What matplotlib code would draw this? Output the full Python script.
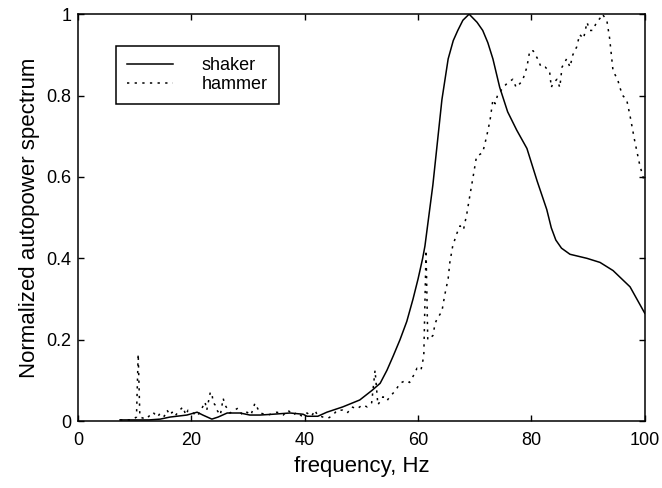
import matplotlib
matplotlib.use('Agg')  # headless
import matplotlib.pyplot as plt

plt.rcParams['font.family'] = ['Liberation Sans', 'DejaVu Sans']

# shaker autopower (solid)
shaker_f = [7.4, 12.5, 14.5, 16.2, 19.2, 21.0, 22.0, 23.6, 24.7, 26.3, 28.6, 30.3,
            32.1, 34.4, 37.4, 39.7, 40.4, 42.3, 43.9, 46.7, 49.7, 51.9, 53.3, 54.5,
            55.6, 56.8, 58.0, 59.1, 60.0, 60.8, 61.2, 62.6, 64.2, 65.3, 66.2, 67.0, 67.9,
            69.0, 70.4, 71.4, 72.3, 73.2, 74.4, 75.8, 77.4, 79.2, 81.0, 82.7, 83.5, 84.3,
            85.3, 86.8, 89.8, 92.1, 94.4, 97.4, 100.0]
shaker_p = [0.003, 0.003, 0.005, 0.010, 0.015, 0.022, 0.015, 0.005, 0.010, 0.020, 0.020, 0.015,
            0.015, 0.017, 0.020, 0.017, 0.012, 0.012, 0.022, 0.035, 0.052, 0.076, 0.093, 0.125,
            0.160, 0.200, 0.245, 0.300, 0.350, 0.400, 0.430, 0.580, 0.790, 0.890, 0.935, 0.960, 0.985,
            1.000, 0.980, 0.960, 0.930, 0.890, 0.820, 0.760, 0.715, 0.670, 0.590, 0.520, 0.475, 0.445,
            0.425, 0.410, 0.400, 0.390, 0.370, 0.330, 0.265]

# hammer autopower (dotted)
hammer_f = [7.4, 9.5, 10.3, 10.6, 10.9, 12.0, 13.2, 14.0, 14.5, 15.2, 15.7, 16.2, 16.6, 17.1,
            17.6, 18.5, 19.0, 19.4, 20.3, 21.0, 21.5, 22.4, 22.7, 23.3, 23.6, 23.8, 24.2, 24.5,
            25.1, 25.6, 25.9, 26.8, 28.2, 29.0, 29.8, 30.5, 31.2, 32.1, 33.5, 35.1, 36.2, 37.0,
            38.0, 38.6, 39.5, 40.4, 41.2, 41.8, 42.2, 43.2, 44.1, 45.0, 45.7, 46.7, 47.5, 48.3,
            49.2, 50.2, 51.0, 51.8, 52.4, 52.9, 53.8, 54.5, 55.0, 56.0, 56.8, 57.8, 58.5, 59.3,
            59.8, 60.5, 61.0, 61.4, 61.7, 62.6, 63.0, 63.3, 64.2, 64.7, 65.3, 65.6, 66.1, 66.8,
            67.4, 68.0, 68.6, 69.2, 69.7, 70.3, 71.4, 72.1, 72.7, 73.2, 73.6, 74.0, 75.0, 75.7,
            76.7, 77.3, 78.0, 78.5, 79.2, 79.7, 80.3, 81.1, 81.7, 82.4, 83.2, 83.5, 83.8, 84.5,
            85.0, 85.4, 86.2, 86.8, 87.3, 88.0, 88.5, 89.2, 89.8, 90.3, 90.8, 91.5, 92.1, 92.5,
            93.3, 93.8, 94.4, 95.2, 95.6, 96.1, 96.8, 97.4, 98.2, 99.1, 100.0]
hammer_p = [0.003, 0.003, 0.010, 0.165, 0.010, 0.005, 0.022, 0.010, 0.020, 0.012, 0.027, 0.015, 0.022, 0.012,
            0.022, 0.035, 0.015, 0.027, 0.020, 0.012, 0.022, 0.047, 0.027, 0.069, 0.071, 0.047, 0.039, 0.027,
            0.015, 0.056, 0.040, 0.020, 0.032, 0.015, 0.022, 0.015, 0.044, 0.020, 0.015, 0.022, 0.015, 0.027,
            0.015, 0.022, 0.012, 0.020, 0.012, 0.027, 0.015, 0.010, 0.007, 0.015, 0.027, 0.027, 0.020, 0.035,
            0.030, 0.040, 0.035, 0.045, 0.125, 0.040, 0.060, 0.050, 0.060, 0.075, 0.093, 0.100, 0.095, 0.115,
            0.130, 0.125, 0.160, 0.420, 0.200, 0.210, 0.240, 0.250, 0.270, 0.310, 0.350, 0.390, 0.430, 0.460,
            0.480, 0.470, 0.510, 0.560, 0.600, 0.650, 0.660, 0.700, 0.740, 0.790, 0.780, 0.800, 0.820, 0.830,
            0.840, 0.820, 0.830, 0.840, 0.870, 0.910, 0.910, 0.890, 0.870, 0.870, 0.860, 0.820, 0.830, 0.840,
            0.820, 0.870, 0.890, 0.870, 0.900, 0.920, 0.950, 0.940, 0.980, 0.960, 0.960, 0.980, 0.990, 1.000,
            0.985, 0.940, 0.860, 0.840, 0.820, 0.800, 0.790, 0.750, 0.690, 0.630, 0.585]

x_ticks = [0, 20, 40, 60, 80, 100]
y_ticks = [0, 0.2, 0.4, 0.6, 0.8, 1]
y_labels = ['0', '0.2', '0.4', '0.6', '0.8', '1']

fig = plt.figure(figsize=(6.62, 4.88), dpi=100)
ax = fig.add_axes([0.118, 0.137, 0.856, 0.834])

ax.plot(shaker_f, shaker_p, color='black', lw=1.1, label='shaker')
ax.plot(hammer_f, hammer_p, color='black', lw=1.1, linestyle=(0, (1.5, 3.5)), label='hammer')

ax.set_xlim(0, 100)
ax.set_ylim(0, 1)
ax.set_xticks(x_ticks)
ax.set_xticklabels([str(t) for t in x_ticks])
ax.set_yticks(y_ticks)
ax.set_yticklabels(y_labels)
ax.tick_params(direction='in', length=4, width=1, top=True, right=True, labelsize=13, pad=5)
ax.tick_params(axis='x', pad=8)
for sp in ax.spines.values():
    sp.set_linewidth(1.1)

ax.set_xlabel('frequency, Hz', fontsize=16, labelpad=5)
ax.set_ylabel('Normalized autopower spectrum', fontsize=16, labelpad=4)

leg = ax.legend(loc='upper left', bbox_to_anchor=(0.067, 0.921), fontsize=13,
                handlelength=2.55, handletextpad=1.6, borderaxespad=0, borderpad=0.6,
                labelspacing=0.1, fancybox=False, framealpha=1)
leg.get_frame().set_edgecolor('black')
leg.get_frame().set_linewidth(1.1)

fig.savefig('out.png', dpi=100)
